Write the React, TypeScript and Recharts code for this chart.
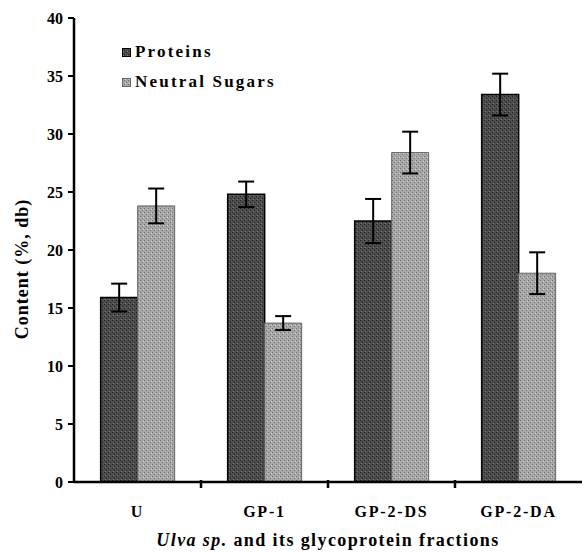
import { Bar, BarChart, ErrorBar, Legend, XAxis, YAxis } from "recharts";

const categories = ["U", "GP-1", "GP-2-DS", "GP-2-DA"];
const proteins = [15.9, 24.8, 22.5, 33.4];
const proteinsErr = [1.2, 1.1, 1.9, 1.8];
const sugars = [23.8, 13.7, 28.4, 18.0];
const sugarsErr = [1.5, 0.6, 1.8, 1.8];
const yTicks = [0, 5, 10, 15, 20, 25, 30, 35, 40];

const data = categories.map((name, i) => ({
  name,
  proteins: proteins[i],
  proteinsErr: proteinsErr[i],
  sugars: sugars[i],
  sugarsErr: sugarsErr[i],
}));

const FONT = "'Liberation Serif', 'Times New Roman', serif";

function XTick(props: any) {
  const { x, y, payload, index } = props;
  const half = payload.offset ?? 0;
  return (
    <g>
      {index > 0 && <line x1={x - half} x2={x - half} y1={y - 2} y2={y + 6} stroke="#000" strokeWidth={2.5} />}
      <text
        x={x}
        y={y + 35}
        textAnchor="middle"
        fontFamily={FONT}
        fontWeight="bold"
        fontSize={16}
        letterSpacing={1.8}
        fill="#000"
      >
        {payload.value}
      </text>
    </g>
  );
}

function XTitle(props: any) {
  const { viewBox } = props;
  const cx = viewBox.x + viewBox.width / 2;
  return (
    <text
      x={cx}
      y={viewBox.y + 64}
      textAnchor="middle"
      fontFamily={FONT}
      fontWeight="bold"
      fontSize={18}
      letterSpacing={1.4}
      fill="#000"
    >
      <tspan fontStyle="italic">Ulva sp.</tspan>
      <tspan> and its glycoprotein fractions</tspan>
    </text>
  );
}

function YTitle(props: any) {
  const { viewBox } = props;
  const cx = viewBox.x + 8;
  const cy = viewBox.y + viewBox.height / 2 + 19;
  return (
    <text
      x={cx}
      y={cy}
      transform={`rotate(-90, ${cx}, ${cy})`}
      textAnchor="middle"
      dominantBaseline="central"
      fontFamily={FONT}
      fontWeight="bold"
      fontSize={18}
      letterSpacing={1}
      fill="#000"
    >
      Content (%, db)
    </text>
  );
}

function LegendBox() {
  const items = [
    { label: "Proteins", fill: "url(#protFill)", stroke: "#000" },
    { label: "Neutral Sugars", fill: "url(#sugarFill)", stroke: "#666" },
  ];
  return (
    <div style={{ fontFamily: FONT, fontWeight: "bold", fontSize: 17, letterSpacing: 2.2 }}>
      {items.map((it) => (
        <div key={it.label} style={{ display: "flex", alignItems: "center", height: 30 }}>
          <svg width={9} height={9} style={{ marginRight: 4 }}>
            <rect x={0.5} y={0.5} width={8} height={8} fill={it.fill} stroke={it.stroke} />
          </svg>
          <span>{it.label}</span>
        </div>
      ))}
    </div>
  );
}

export default function App() {
  return (
    <div style={{ position: "absolute", left: 0, top: 0, width: 587, height: 552, background: "#fff" }}>
      <BarChart
        width={587}
        height={552}
        data={data}
        margin={{ top: 18, right: 5, bottom: 0, left: 14 }}
        barCategoryGap="21%"
        barGap={0}
      >
        <defs>
          <pattern id="protFill" width={4} height={4} patternUnits="userSpaceOnUse">
            <rect width={4} height={4} fill="#4e4e4e" />
            <rect x={0} y={0} width={1} height={1} fill="#1e1e1e" />
            <rect x={2} y={2} width={1} height={1} fill="#1e1e1e" />
            <rect x={1} y={3} width={1} height={1} fill="#7a7a7a" />
          </pattern>
          <pattern id="sugarFill" width={4} height={4} patternUnits="userSpaceOnUse">
            <rect width={4} height={4} fill="#a8a8a8" />
            <rect x={0} y={0} width={1} height={1} fill="#707070" />
            <rect x={2} y={2} width={1} height={1} fill="#707070" />
            <rect x={3} y={1} width={1} height={1} fill="#d4d4d4" />
          </pattern>
        </defs>
        <XAxis
          dataKey="name"
          height={70}
          axisLine={{ stroke: "#000", strokeWidth: 2.5 }}
          tickLine={false}
          tickSize={0}
          tickMargin={0}
          tick={<XTick />}
          interval={0}
          label={<XTitle />}
        />
        <YAxis
          width={60}
          domain={[0, 40]}
          ticks={yTicks}
          interval={0}
          axisLine={{ stroke: "#000", strokeWidth: 2.5 }}
          tickLine={{ stroke: "#000", strokeWidth: 2 }}
          tickSize={6}
          tickMargin={5}
          tick={{ fill: "#000", fontFamily: FONT, fontWeight: "bold", fontSize: 16 }}
          label={<YTitle />}
        />
        <Legend
          layout="vertical"
          align="center"
          verticalAlign="middle"
          wrapperStyle={{ left: 122, top: 37, width: 200 }}
          content={<LegendBox />}
        />
        <Bar dataKey="proteins" name="Proteins" fill="url(#protFill)" stroke="#000" strokeWidth={1.5} isAnimationActive={false}>
          <ErrorBar dataKey="proteinsErr" width={8} stroke="#000" strokeWidth={2} direction="y" />
        </Bar>
        <Bar dataKey="sugars" name="Neutral Sugars" fill="url(#sugarFill)" stroke="#666" strokeWidth={1} isAnimationActive={false}>
          <ErrorBar dataKey="sugarsErr" width={8} stroke="#000" strokeWidth={2} direction="y" />
        </Bar>
      </BarChart>
    </div>
  );
}
